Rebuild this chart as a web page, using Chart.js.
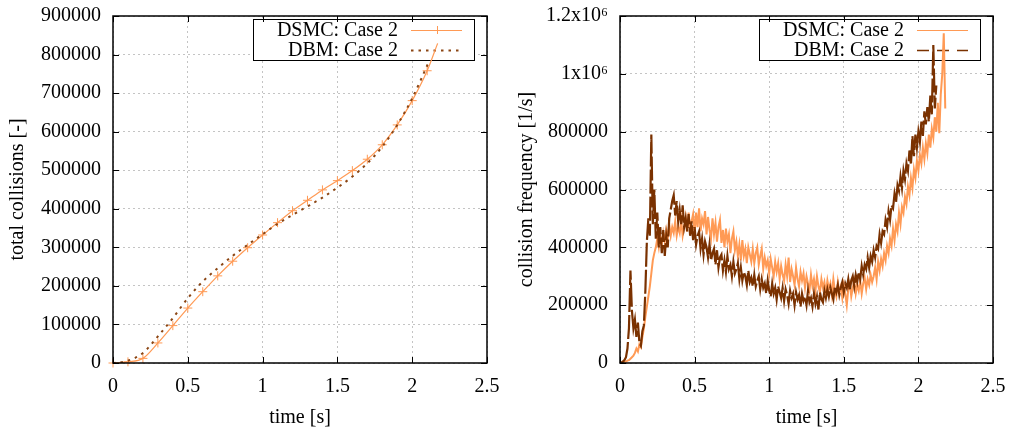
<!DOCTYPE html>
<html lang="en">
<head>
  <meta charset="UTF-8">
  <title>Collisions: DSMC vs DBM</title>
  <script src="https://cdn.jsdelivr.net/npm/chart.js"></script>
  <style>
    html, body { margin: 0; padding: 0; background: #fff; }
    body { width: 1011px; height: 430px; position: relative; overflow: hidden; }
    canvas { position: absolute; top: 0; }
    #totalChart { left: 0; }
    #freqChart { left: 505px; }
  </style>
</head>
<body>
  <canvas id="totalChart" width="505" height="430"></canvas>
  <canvas id="freqChart" width="506" height="430"></canvas>

  <script>
    // left panel: total collisions, sampled every 0.1 s (last point is where the run ends)
    const dsmcTotalTime = [0, 0.1, 0.2, 0.3, 0.4, 0.5, 0.6, 0.7, 0.8, 0.9, 1.0, 1.1, 1.2, 1.3, 1.4, 1.5, 1.6, 1.7, 1.8, 1.9, 2.0, 2.1, 2.17];
    const dsmcTotal = [0, 3000, 12000, 52000, 97000, 142500, 185000, 226000, 264000, 299000, 332000, 364000, 395000, 422000, 449000, 473000, 499000, 528500, 566000, 617500, 680500, 758000, 829000];
    const dbmTotalTime = [0, 0.1, 0.2, 0.3, 0.4, 0.5, 0.6, 0.7, 0.8, 0.9, 1.0, 1.1, 1.2, 1.3, 1.4, 1.5, 1.6, 1.7, 1.8, 1.9, 2.0, 2.11];
    const dbmTotal = [0, 6000, 26000, 69000, 116500, 168000, 211500, 246000, 278000, 306500, 334000, 361000, 384000, 406000, 429000, 455000, 483500, 518000, 561000, 617500, 686500, 780000];

    // right panel: collision frequency in units of 1000 1/s, one sample every 0.01 s
    const freqStep = 0.01;
    const dsmcFreqK = [
      0, 0, 2, 3, 5, 8, 10, 15, 20, 25,
      35, 50, 40, 65, 55, 90, 120, 160, 195, 230,
      265, 310, 355, 380, 400, 430, 400, 440, 410, 450,
      420, 460, 430, 480, 440, 470, 450, 490, 440, 470,
      450, 495, 440, 470, 505, 455, 520, 465, 490, 515,
      450, 520, 470, 535, 455, 500, 480, 525, 445, 505,
      460, 430, 500, 445, 485, 420, 470, 495, 415, 460,
      400, 465, 420, 445, 380, 430, 455, 390, 420, 370,
      410, 355, 425, 370, 395, 345, 400, 375, 350, 395,
      345, 380, 400, 340, 370, 395, 325, 365, 335, 355,
      310, 360, 330, 300, 350, 315, 345, 290, 335, 305,
      285, 340, 300, 365, 280, 325, 300, 270, 330, 290,
      265, 315, 285, 310, 260, 300, 275, 250, 305, 265,
      290, 250, 300, 265, 245, 290, 260, 280, 240, 285,
      255, 275, 235, 290, 250, 230, 280, 245, 265, 225,
      270, 240, 200, 255, 275, 230, 260, 285, 240, 270,
      250, 285, 240, 275, 295, 255, 290, 270, 305, 280,
      300, 330, 290, 350, 320, 360, 335, 380, 355, 405,
      380, 430, 405, 465, 425, 480, 455, 520, 480, 540,
      520, 575, 550, 610, 580, 640, 605, 670, 640, 700,
      665, 720, 690, 745, 705, 760, 725, 790, 745, 810,
      780, 850, 800, 900, 795, 930, 1000, 1140, 880
    ];
    const dbmFreqK = [
      0, 2, 5, 10, 20, 50, 120, 320, 180, 120,
      150, 90, 140, 70, 60, 110, 130, 250, 420, 500,
      440, 790, 480, 600, 430, 520, 400, 470, 380, 460,
      370, 440, 400, 500, 530, 560, 580, 510, 560, 490,
      530, 480, 545, 470, 500, 455, 515, 440, 490, 425,
      470, 410, 440, 455, 395, 430, 375, 420, 400, 365,
      410, 355, 380, 395, 340, 390, 330, 365, 375, 320,
      355, 315, 370, 325, 340, 300, 350, 310, 325, 345,
      290, 330, 285, 315, 300, 270, 320, 280, 295, 265,
      305, 265, 285, 300, 255, 290, 260, 275, 240, 285,
      250, 230, 275, 240, 260, 220, 265, 245, 225, 260,
      215, 255, 235, 205, 250, 225, 240, 200, 245, 220,
      235, 195, 240, 215, 230, 200, 250, 210, 225, 195,
      240, 205, 230, 185, 245, 220, 210, 250, 225, 255,
      230, 260, 240, 220, 265, 245, 270, 235, 260, 280,
      245, 275, 260, 290, 250, 285, 300, 265, 305, 280,
      315, 290, 335, 305, 340, 325, 365, 330, 370, 350,
      390, 365, 405, 395, 445, 415, 455, 445, 495, 470,
      525, 495, 545, 535, 585, 555, 615, 595, 645, 605,
      665, 635, 690, 665, 735, 685, 785, 715, 790, 745,
      800, 765, 835, 785, 870, 825, 885, 835, 925, 860,
      1100, 880, 960
    ];

    const timeTicks = [0, 0.5, 1, 1.5, 2, 2.5];
    const freqTickLabels = ['0', '200000', '400000', '600000', '800000', '1x10\u2076', '1.2x10\u2076'];

    const orange = '#ff9a55';
    const brown = '#7a3100';
    const dotBrown = '#8b4513';
    const serif = '"Liberation Serif", "Times New Roman", serif';

    Chart.defaults.font.family = serif;
    Chart.defaults.font.size = 20;
    Chart.defaults.color = '#000';

    function pairs(xs, ys) {
      return ys.map((y, i) => ({ x: xs[i], y: y }));
    }
    function stepped(valsK) {
      return valsK.map((v, i) => ({ x: +(i * freqStep).toFixed(2), y: v * 1000 }));
    }

    // gnuplot style frame: opaque key box, black border, inward tick marks
    const gnuFrame = {
      id: 'gnuFrame',
      beforeDatasetsDraw(chart) {
        const a = chart.chartArea, ctx = chart.ctx;
        const right = a.right - 13, left = right - 221, top = a.top + 3, h = 41;
        ctx.save();
        ctx.fillStyle = '#fff';
        ctx.fillRect(left, top, right - left, h);
        ctx.strokeStyle = '#000';
        ctx.lineWidth = 1;
        ctx.strokeRect(left + 0.5, top + 0.5, right - left, h);
        ctx.font = '20px ' + serif;
        ctx.textAlign = 'right';
        ctx.textBaseline = 'middle';
        chart.data.datasets.forEach((ds, i) => {
          const y = top + 11 + i * 20;
          ctx.fillStyle = '#000';
          ctx.fillText(ds.label, right - 76, y + 1);
          const x1 = right - 63, x2 = right - 12;
          ctx.strokeStyle = ds.borderColor;
          ctx.lineWidth = ds.legendWidth || ds.borderWidth;
          ctx.setLineDash(ds.legendDash || ds.borderDash || []);
          ctx.beginPath();
          ctx.moveTo(x1, y + 0.5);
          ctx.lineTo(x2, y + 0.5);
          ctx.stroke();
          ctx.setLineDash([]);
          if (ds.legendMark) {
            const cx = Math.round((x1 + x2) / 2);
            ctx.lineWidth = 1;
            ctx.beginPath();
            ctx.moveTo(cx - 4, y + 0.5); ctx.lineTo(cx + 4, y + 0.5);
            ctx.moveTo(cx + 0.5, y - 4); ctx.lineTo(cx + 0.5, y + 4);
            ctx.stroke();
          }
        });
        ctx.restore();
      },
      afterDatasetsDraw(chart) {
        const a = chart.chartArea, ctx = chart.ctx;
        const xs = chart.scales.x, ys = chart.scales.y;
        ctx.save();
        ctx.strokeStyle = '#000';
        ctx.lineWidth = 1;
        ctx.beginPath();
        xs.ticks.forEach(t => {
          const px = Math.round(xs.getPixelForValue(t.value)) + 0.5;
          ctx.moveTo(px, a.bottom); ctx.lineTo(px, a.bottom - 6);
          ctx.moveTo(px, a.top); ctx.lineTo(px, a.top + 6);
        });
        ys.ticks.forEach(t => {
          const py = Math.round(ys.getPixelForValue(t.value)) + 0.5;
          ctx.moveTo(a.left, py); ctx.lineTo(a.left + 6, py);
          ctx.moveTo(a.right, py); ctx.lineTo(a.right - 6, py);
        });
        ctx.stroke();
        ctx.lineWidth = 1.5;
        ctx.strokeRect(a.left, a.top, a.right - a.left, a.bottom - a.top);
        ctx.restore();
      }
    };

    // label gaps come from invisible tick marks so that they do not widen the chart padding
    function axes(yMax, yStep, yTitle, yWidth, titlePad, yLabel) {
      const grid = (len) => ({ color: '#c4c4c4', lineWidth: 1, drawTicks: true, tickLength: len, tickColor: 'rgba(0,0,0,0)' });
      return {
        x: {
          type: 'linear', min: 0, max: 2.5,
          afterFit: s => { s.height = 67; },
          afterBuildTicks: s => { s.ticks = timeTicks.map(v => ({ value: v })); },
          grid: grid(12),
          border: { display: false, dash: [2, 3] },
          ticks: { padding: 0, autoSkip: false, maxRotation: 0, callback: v => String(v) },
          title: { display: true, text: 'time [s]', font: { lineHeight: 1.25 }, padding: { top: 0, bottom: 0 } }
        },
        y: {
          type: 'linear', min: 0, max: yMax,
          afterFit: s => { s.width = yWidth; },
          grid: grid(12),
          border: { display: false, dash: [2, 3] },
          ticks: { stepSize: yStep, padding: 0, autoSkip: false, callback: yLabel },
          title: { display: true, text: yTitle, padding: { top: titlePad, bottom: 0 } }
        }
      };
    }

    const common = {
      responsive: false,
      animation: false,
      devicePixelRatio: 1,
      layout: { padding: { top: 16, right: 18, left: 0, bottom: 0 } },
      plugins: { legend: { display: false }, tooltip: { enabled: false } }
    };

    new Chart(document.getElementById('totalChart'), {
      type: 'line',
      data: {
        datasets: [{
          label: 'DSMC: Case 2',
          data: pairs(dsmcTotalTime, dsmcTotal),
          borderColor: orange,
          borderWidth: 1.2,
          pointStyle: 'cross',
          pointRadius: ctx => ctx.dataIndex < dsmcTotal.length - 1 ? 4.5 : 0,
          pointBorderColor: orange,
          pointBorderWidth: 1,
          cubicInterpolationMode: 'monotone',
          legendMark: true,
          clip: 6,
          order: 1
        }, {
          label: 'DBM: Case 2',
          data: pairs(dbmTotalTime, dbmTotal),
          borderColor: dotBrown,
          borderWidth: 2,
          borderDash: [2.5, 5],
          pointRadius: 0,
          cubicInterpolationMode: 'monotone',
          order: 0
        }]
      },
      options: Object.assign({}, common, {
        scales: axes(900000, 100000, 'total collisions [-]', 113, 6, v => String(v))
      }),
      plugins: [gnuFrame]
    });

    new Chart(document.getElementById('freqChart'), {
      type: 'line',
      data: {
        datasets: [{
          label: 'DSMC: Case 2',
          data: stepped(dsmcFreqK),
          borderColor: orange,
          borderWidth: 2,
          legendWidth: 1.2,
          pointRadius: 0,
          tension: 0,
          clip: 2,
          order: 1
        }, {
          label: 'DBM: Case 2',
          data: stepped(dbmFreqK),
          borderColor: brown,
          borderWidth: 2.2,
          borderDash: [24, 3],
          legendDash: [12, 8],
          legendWidth: 1.6,
          pointRadius: 0,
          tension: 0,
          clip: 2,
          order: 0
        }]
      },
      options: Object.assign({}, common, {
        scales: axes(1200000, 200000, 'collision frequency [1/s]', 115, 10,
          v => freqTickLabels[Math.round(v / 200000)])
      }),
      plugins: [gnuFrame]
    });
  </script>
</body>
</html>
